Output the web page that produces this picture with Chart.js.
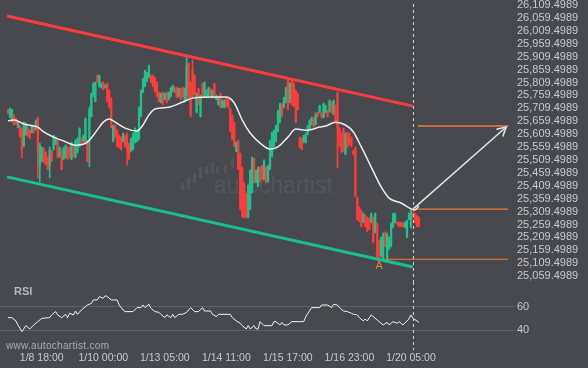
<!DOCTYPE html>
<html>
<head>
<meta charset="utf-8">
<script src="https://cdn.jsdelivr.net/npm/chart.js@4.4.1/dist/chart.umd.min.js"></script>
<style>
  html, body { margin: 0; padding: 0; background: #47494e; }
  #wrap { position: relative; width: 588px; height: 368px; overflow: hidden; background: #47494e; }
  .pane { position: absolute; left: 0; width: 588px; }
  #pricePane { top: 0; height: 282px; }
  #rsiPane { top: 282px; height: 86px; }
</style>
</head>
<body>
<div id="wrap">
  <div class="pane" id="pricePane"><canvas id="price"></canvas></div>
  <div class="pane" id="rsiPane"><canvas id="rsi"></canvas></div>
</div>
<script>
// hourly candles, index 0 = first bar on the left
const candleOpen = [
  25703,25676,25661,25680,25668,25637,25641,25630,25568,25610,
  25634,25622,25618,25641,25630,25672,25490,25506,25552,25537,
  25517,25490,25544,25552,25572,25583,25525,25544,25514,25521,
  25556,25556,25514,25564,25521,25541,25564,25591,25583,25583,
  25583,25587,25680,25757,25738,25835,25796,25792,25808,25792,
  25804,25777,25746,25583,25641,25622,25603,25595,25583,25603,
  25610,25572,25544,25552,25579,25583,25591,25680,25773,25796,
  25815,25831,25835,25835,25827,25808,25769,25734,25769,25746,
  25769,25746,25757,25777,25788,25788,25757,25784,25788,25738,
  25761,25881,25808,25858,25835,25695,25784,25680,25804,25757,
  25753,25757,25784,25753,25804,25746,25726,25765,25715,25715,
  25746,25746,25707,25680,25653,25544,25583,25533,25479,25417,
  25378,25289,25320,25386,25514,25424,25409,25479,25486,25436,
  25479,25428,25475,25525,25564,25583,25622,25657,25726,25715,
  25734,25815,25734,25815,25804,25777,25765,25595,25591,25579,
  25579,25610,25630,25649,25672,25649,25692,25695,25688,25676,
  25695,25699,25699,25730,25688,25719,25769,25634,25610,25630,
  25533,25614,25610,25595,25544,25556,25362,25324,25312,25270,
  25293,25285,25281,25270,25285,25231,25262,25196,25138,25126,
  25227,25126,25165,25177,25250,25270,25266,25266,25266,25262,
  25250,25212,25281,25250,25304,25301,25293,25285
];
const candleHigh = [
  25707,25711,25707,25684,25672,25657,25645,25634,25657,25653,
  25637,25626,25645,25645,25665,25676,25575,25560,25556,25541,
  25521,25560,25548,25606,25599,25587,25560,25548,25560,25568,
  25560,25560,25579,25568,25587,25595,25634,25595,25606,25672,
  25587,25715,25769,25808,25812,25839,25839,25808,25812,25800,
  25808,25781,25750,25645,25645,25626,25606,25599,25614,25606,
  25614,25575,25595,25614,25634,25626,25715,25781,25827,25858,
  25850,25877,25839,25839,25831,25812,25773,25769,25773,25769,
  25773,25773,25792,25800,25792,25792,25788,25788,25792,25788,
  25908,25885,25812,25897,25839,25769,25788,25761,25808,25812,
  25781,25792,25788,25781,25808,25761,25753,25769,25742,25742,
  25750,25750,25711,25684,25657,25579,25587,25537,25483,25421,
  25382,25413,25471,25521,25517,25471,25483,25483,25490,25510,
  25483,25490,25587,25618,25626,25645,25703,25730,25730,25753,
  25792,25819,25808,25819,25808,25781,25769,25599,25595,25606,
  25614,25645,25665,25676,25676,25692,25695,25722,25692,25730,
  25722,25703,25742,25734,25742,25722,25773,25637,25614,25634,
  25614,25618,25614,25599,25548,25560,25366,25328,25316,25304,
  25297,25289,25285,25304,25289,25304,25266,25200,25212,25227,
  25231,25227,25212,25266,25304,25304,25270,25270,25270,25266,
  25270,25277,25304,25316,25308,25304,25297,25289
];
const candleLow = [
  25688,25672,25657,25645,25645,25634,25599,25517,25560,25606,
  25599,25591,25614,25614,25626,25440,25424,25502,25498,25490,
  25471,25440,25502,25548,25568,25517,25521,25471,25510,25517,
  25510,25517,25510,25521,25517,25537,25560,25568,25579,25579,
  25502,25483,25676,25753,25734,25808,25792,25788,25781,25788,
  25734,25711,25634,25579,25595,25560,25556,25548,25579,25560,
  25490,25510,25541,25548,25575,25579,25587,25676,25769,25792,
  25812,25827,25808,25792,25773,25753,25734,25730,25722,25742,
  25730,25742,25753,25773,25769,25750,25753,25742,25753,25734,
  25742,25750,25676,25750,25761,25692,25722,25676,25750,25753,
  25750,25753,25753,25750,25750,25742,25722,25711,25711,25711,
  25715,25711,25618,25587,25560,25541,25471,25316,25289,25285,
  25285,25285,25316,25382,25421,25421,25405,25424,25432,25432,
  25421,25424,25471,25521,25560,25579,25618,25653,25676,25711,
  25730,25703,25730,25722,25715,25653,25703,25556,25548,25575,
  25575,25606,25626,25645,25637,25645,25676,25692,25672,25672,
  25692,25676,25695,25692,25684,25653,25479,25560,25537,25541,
  25529,25556,25568,25560,25529,25366,25277,25270,25250,25266,
  25250,25231,25239,25266,25188,25227,25123,25130,25134,25123,
  25173,25123,25161,25173,25246,25266,25258,25250,25250,25250,
  25246,25208,25277,25246,25285,25266,25250,25250
];
const candleClose = [
  25692,25707,25703,25649,25649,25653,25603,25548,25649,25649,
  25603,25595,25641,25618,25661,25548,25568,25556,25502,25494,
  25475,25548,25506,25603,25595,25521,25556,25475,25556,25564,
  25514,25521,25575,25525,25583,25591,25630,25572,25603,25668,
  25506,25703,25765,25804,25808,25812,25835,25804,25784,25796,
  25738,25715,25637,25641,25599,25564,25560,25552,25610,25564,
  25548,25514,25591,25610,25630,25622,25711,25777,25823,25854,
  25846,25874,25812,25796,25777,25757,25738,25765,25726,25765,
  25734,25769,25788,25796,25773,25753,25784,25746,25757,25784,
  25877,25753,25680,25753,25765,25765,25726,25757,25753,25808,
  25777,25788,25757,25777,25753,25757,25750,25715,25738,25738,
  25719,25715,25622,25591,25564,25575,25475,25320,25293,25289,
  25289,25409,25467,25517,25424,25467,25479,25428,25436,25506,
  25424,25486,25583,25614,25622,25641,25699,25726,25680,25750,
  25788,25707,25804,25726,25719,25657,25707,25560,25552,25603,
  25610,25641,25661,25672,25641,25688,25680,25719,25676,25726,
  25719,25680,25738,25695,25738,25657,25634,25564,25541,25544,
  25610,25560,25572,25564,25533,25370,25281,25274,25254,25301,
  25254,25235,25243,25301,25192,25301,25126,25134,25208,25223,
  25177,25223,25208,25262,25301,25301,25262,25254,25254,25254,
  25266,25274,25301,25312,25289,25270,25254,25254
];

// moving average (bar index, value)
const maIndex = [0,3,8,13,15,18,23,28,34,40,45,48,51,54,59,65,68,71,74,81,88,93,104,110,114,118,122,127,132,136,141,145,151,157,160,165,170,174,178,183,188,192,198,203,205,207];
const maValue = [25661,25664,25649,25641,25637,25618,25598,25583,25567,25579,25626,25656,25668,25656,25633,25622,25645,25684,25707,25714,25734,25749,25753,25753,25730,25664,25614,25575,25552,25560,25598,25629,25625,25637,25641,25656,25645,25618,25560,25482,25405,25362,25343,25320,25316,25331];

// RSI (bar index, value)
const rsiIndex = [0,2,4,5,7,9,11,13,15,17,21,22,24,25,27,29,30,31,33,34,35,37,39,40,42,43,45,46,48,49,50,52,55,56,58,59,63,65,67,68,69,71,72,74,76,77,79,80,82,83,84,86,88,90,92,94,96,98,99,102,103,105,106,112,113,115,117,118,120,121,122,124,125,126,127,129,133,134,135,137,138,139,141,143,149,150,153,157,158,161,163,164,166,167,169,171,173,174,176,177,179,180,181,183,186,187,189,191,192,194,196,197,199,201,202,203,204,206,207];
const rsiValue = [50.7,50.7,47.9,44.5,38.8,43.9,41.1,44.5,47.3,50.1,50.7,53.0,55.8,53.0,50.7,53.5,50.7,54.4,53.0,56.3,53.5,57.2,60.0,61.4,62.8,65.7,65.7,68.5,67.1,69.3,68.5,65.7,65.7,61.4,57.2,55.8,55.8,59.2,59.2,61.4,59.2,62.0,58.6,55.8,55.2,53.5,50.7,53.0,50.7,53.5,50.7,53.5,53.5,55.2,59.2,55.8,55.8,59.2,56.3,56.3,53.5,51.5,53.5,53.5,50.7,47.9,45.9,43.9,41.1,43.9,41.1,43.9,41.1,41.1,47.3,43.9,43.9,47.3,47.3,44.5,46.7,44.5,44.5,47.3,47.3,51.5,59.2,59.2,61.4,61.4,59.2,62.0,61.4,59.2,56.3,55.8,54.4,53.5,53.0,50.7,47.9,49.6,47.9,53.0,48.7,47.3,44.5,46.7,44.5,47.3,45.9,47.3,44.5,47.9,49.6,53.0,50.1,47.9,46.7];

const timeLabels = ["1/8 18:00","1/10 00:00","1/13 05:00","1/14 11:00","1/15 17:00","1/16 23:00","1/20 05:00"];
const timeLabelIndex = [17,48,79,110,141,172,203];

const priceTicks = [25059.4989,25109.4989,25159.4989,25209.4989,25259.4989,25309.4989,25359.4989,25409.4989,
  25459.4989,25509.4989,25559.4989,25609.4989,25659.4989,25709.4989,25759.4989,25809.4989,25859.4989,
  25909.4989,25959.4989,26009.4989,26059.4989,26109.4989];
const rsiTicks = [40, 60];

// channel and pattern levels
const channelIndex = [-0.5, 204];
const upperChannel = [26067, 25718];
const lowerChannel = [25444, 25095];
const lowLevelIndex = [186, 252];
const lowLevel = 25125;
const entryLevelIndex = [204, 252];
const entryLevel = 25319;
const targetLevelIndex = [206.5, 252];
const targetLevel = 25641;
const arrowIndex = [204, 251];
const arrowPrice = [25319, 25637];
const markerIndex = 204;
const pointAIndex = 187;

const X_MIN = -4.03, X_MAX = 252.9;
const FONT = '"Liberation Sans", Arial, sans-serif';
const GREEN = '#1fc28b', RED = '#ff3b3b', ORANGE = '#f57a3c';

function pairs(xs, ys) { return xs.map((x, i) => ({ x, y: ys[i] })); }
function flat(xs, v) { return xs.map(x => ({ x, y: v })); }
function fmtPrice(v) {
  return Number(v).toLocaleString('en-US', { minimumFractionDigits: 4, maximumFractionDigits: 4 });
}

const candleColors = candleOpen.map((o, i) => candleClose[i] >= o ? GREEN : RED);
const wickData = candleOpen.map((_, i) => ({ x: i, y: [candleLow[i], candleHigh[i]] }));
const bodyData = candleOpen.map((o, i) => ({ x: i, y: [o, candleClose[i]] }));

function lineSet(data, color, width, extra = {}) {
  return Object.assign({
    type: 'line', data, borderColor: color, borderWidth: width,
    pointRadius: 0, fill: false, order: 1
  }, extra);
}

function dashedMarker(chart, y0, y1) {
  const { ctx, scales: { x } } = chart;
  const mx = Math.round(x.getPixelForValue(markerIndex)) + 0.5;
  ctx.save();
  ctx.strokeStyle = '#d2d3d5';
  ctx.lineWidth = 1;
  ctx.setLineDash([3, 3]);
  ctx.beginPath(); ctx.moveTo(mx, y0); ctx.lineTo(mx, y1); ctx.stroke();
  ctx.restore();
}

const priceDecor = {
  id: 'priceDecor',
  beforeDatasetsDraw(chart) {
    const ctx = chart.ctx;
    ctx.save();
    // faint logo watermark
    ctx.fillStyle = 'rgba(255,255,255,0.07)';
    [[181,183,190],[187,177,189],[193,173,183],[199,167,178],[205,166,175],[211,163,173],[216,167,173],[224,165,173],[231,158,167]]
      .forEach(([bx, t, b]) => ctx.fillRect(bx, t, 3, b - t));
    ctx.font = '23px ' + FONT;
    ctx.textBaseline = 'alphabetic';
    ctx.fillText('autochartist', 214, 193);
    ctx.restore();
  },
  afterDatasetsDraw(chart) {
    const { ctx, scales: { x, y } } = chart;
    dashedMarker(chart, 4, chart.height);
    // arrow head
    const x0 = x.getPixelForValue(arrowIndex[0]), y0 = y.getPixelForValue(arrowPrice[0]);
    const x1 = x.getPixelForValue(arrowIndex[1]), y1 = y.getPixelForValue(arrowPrice[1]);
    const a = Math.atan2(y1 - y0, x1 - x0);
    ctx.save();
    ctx.strokeStyle = '#e4e4e4';
    ctx.lineWidth = 1.5;
    ctx.beginPath();
    ctx.moveTo(x1 + 10 * Math.cos(a + Math.PI - 0.5), y1 + 10 * Math.sin(a + Math.PI - 0.5));
    ctx.lineTo(x1, y1);
    ctx.lineTo(x1 + 10 * Math.cos(a + Math.PI + 0.5), y1 + 10 * Math.sin(a + Math.PI + 0.5));
    ctx.stroke();
    // pattern point label
    ctx.fillStyle = ORANGE;
    ctx.font = '11px ' + FONT;
    ctx.textAlign = 'center';
    ctx.textBaseline = 'top';
    ctx.fillText('A', x.getPixelForValue(pointAIndex), y.getPixelForValue(lowLevel) + 1);
    ctx.restore();
  }
};

const rsiDecor = {
  id: 'rsiDecor',
  afterDatasetsDraw(chart) {
    const ctx = chart.ctx;
    dashedMarker(chart, 0, 68);
    ctx.save();
    ctx.fillStyle = '#b4b7bb';
    ctx.font = 'bold 11px ' + FONT;
    ctx.textBaseline = 'alphabetic';
    ctx.fillText('RSI', 14, 13);
    ctx.fillStyle = '#a9acb0';
    ctx.font = '10px ' + FONT;
    ctx.letterSpacing = '0.3px';
    ctx.fillText('www.autochartist.com', 6, 67);
    ctx.restore();
  }
};

Chart.defaults.font.family = FONT;
Chart.defaults.color = '#c6c9cd';

new Chart(document.getElementById('price'), {
  type: 'bar',
  data: {
    datasets: [
      { type: 'bar', data: wickData, backgroundColor: candleColors, barThickness: 1, grouped: false, borderWidth: 0, order: 6 },
      { type: 'bar', data: bodyData, backgroundColor: candleColors, barThickness: 1.6, grouped: false, borderWidth: 0, order: 5 },
      lineSet(pairs(channelIndex, upperChannel), '#ff3c3c', 3),
      lineSet(pairs(channelIndex, lowerChannel), '#19c08e', 3),
      lineSet(flat(lowLevelIndex, lowLevel), ORANGE, 1.2),
      lineSet(flat(entryLevelIndex, entryLevel), ORANGE, 1.2),
      lineSet(flat(targetLevelIndex, targetLevel), ORANGE, 1.5),
      lineSet(pairs(maIndex, maValue), '#ececec', 1.5, { cubicInterpolationMode: 'monotone', order: 0 }),
      lineSet(pairs(arrowIndex, arrowPrice), '#e4e4e4', 1.5)
    ]
  },
  options: {
    responsive: true,
    maintainAspectRatio: false,
    animation: false,
    events: [],
    layout: { padding: 0 },
    plugins: { legend: { display: false }, tooltip: { enabled: false } },
    scales: {
      x: { type: 'linear', min: X_MIN, max: X_MAX, offset: false, display: false },
      y: {
        position: 'right', min: 25037, max: 26129,
        grid: { display: false, drawTicks: false },
        border: { display: false },
        ticks: { autoSkip: false, padding: 7, font: { size: 11 }, callback: fmtPrice },
        afterBuildTicks: s => { s.ticks = priceTicks.map(v => ({ value: v })); },
        afterFit: s => { s.width = 78; s.paddingTop = 0; s.paddingBottom = 0; }
      }
    }
  },
  plugins: [priceDecor]
});

new Chart(document.getElementById('rsi'), {
  type: 'line',
  data: {
    datasets: [
      { data: pairs(rsiIndex, rsiValue), borderColor: '#f2f2f2', borderWidth: 1, pointRadius: 0, tension: 0 }
    ]
  },
  options: {
    responsive: true,
    maintainAspectRatio: false,
    animation: false,
    events: [],
    layout: { padding: { top: 2 } },
    plugins: { legend: { display: false }, tooltip: { enabled: false } },
    scales: {
      x: {
        type: 'linear', min: X_MIN, max: X_MAX, offset: false,
        grid: { display: false, drawTicks: false },
        border: { display: false },
        ticks: { autoSkip: false, maxRotation: 0, minRotation: 0, padding: 7, font: { size: 10.5 },
                 callback: (v, i) => timeLabels[i] },
        afterBuildTicks: s => { s.ticks = timeLabelIndex.map(v => ({ value: v })); },
        afterFit: s => { s.height = 23; s.paddingLeft = 0; s.paddingRight = 0; }
      },
      y: {
        position: 'right', min: 27.5, max: 79.2,
        grid: { color: '#5f6267', lineWidth: 1, tickLength: 5 },
        border: { display: false },
        ticks: { padding: 2, font: { size: 11 } },
        afterBuildTicks: s => { s.ticks = rsiTicks.map(v => ({ value: v })); },
        afterFit: s => { s.width = 78; s.paddingTop = 0; s.paddingBottom = 0; }
      }
    }
  },
  plugins: [rsiDecor]
});
</script>
</body>
</html>
